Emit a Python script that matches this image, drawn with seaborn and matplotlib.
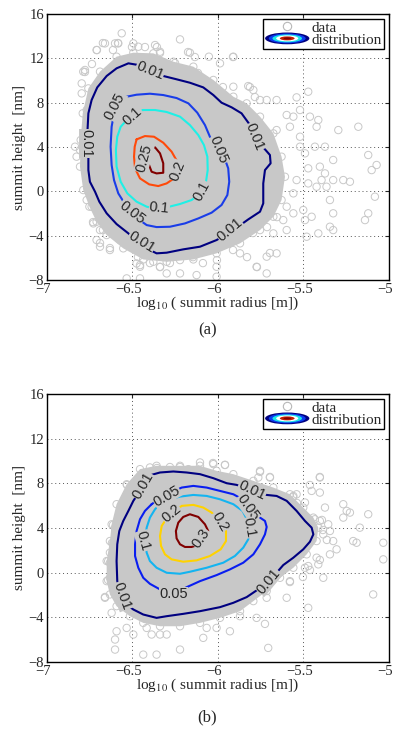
import matplotlib
matplotlib.use("Agg")
import matplotlib.pyplot as plt
from matplotlib.legend_handler import HandlerBase
from matplotlib.lines import Line2D
from matplotlib.patches import Ellipse, Patch
from matplotlib.transforms import ScaledTranslation
import pandas as pd
import seaborn as sns

# ---- data ----
XTICKS = [-7, -6.5, -6, -5.5, -5]
YTICKS = [-8, -4, 0, 4, 8, 12, 16]

# (a) outline of the dense part of the scatter cloud
A_CLOUD = [(-6.690, 10.80), (-6.593, 12.15), (-6.495, 12.51), (-6.378, 12.45), (-6.261, 11.70),
           (-6.144, 11.25), (-6.027, 10.05), (-5.910, 8.54), (-5.832, 7.94), (-5.754, 6.74),
           (-5.676, 5.23), (-5.628, 3.13), (-5.608, 1.32), (-5.628, -0.78), (-5.676, -2.29),
           (-5.754, -3.49), (-5.871, -4.69), (-6.008, -5.59), (-6.144, -6.14), (-6.300, -6.35),
           (-6.437, -6.14), (-6.554, -5.14), (-6.651, -3.94), (-6.710, -2.74), (-6.752, -1.38),
           (-6.788, 0.12), (-6.807, 2.23), (-6.803, 4.63), (-6.791, 7.04), (-6.758, 9.29)]

A_OUTLIERS = [(-6.563, 14.26), (-6.602, 13.35), (-6.583, 13.35), (-6.661, 13.35), (-6.710, 12.75),
              (-6.495, 13.35), (-6.466, 13.05), (-6.368, 13.20), (-6.339, 12.60), (-6.222, 13.71),
              (-6.164, 12.51), (-6.053, 12.15), (-5.910, 12.15), (-5.988, 11.55), (-5.910, 9.44),
              (-5.823, 9.50), (-5.793, 9.14), (-5.754, 8.24), (-5.715, 8.24), (-5.657, 8.24),
              (-5.540, 8.48), (-5.472, 8.99), (-5.598, 6.89), (-5.559, 6.74), (-5.520, 7.34),
              (-5.657, 5.53), (-5.579, 5.83), (-5.520, 4.93), (-5.462, 6.74), (-5.413, 6.44),
              (-5.423, 5.83), (-5.520, 4.03), (-5.491, 3.43), (-5.374, 4.03), (-5.433, 4.03),
              (-5.404, 2.23), (-5.374, 1.62), (-5.472, 2.08), (-5.394, 1.02), (-5.326, 1.02),
              (-5.267, 1.02), (-5.326, 2.83), (-5.296, 5.53), (-5.179, 5.83), (-5.121, 3.28),
              (-5.072, 2.38), (-5.101, 1.92), (-5.228, 0.87), (-5.082, -0.48), (-5.140, -2.59),
              (-5.121, -1.98), (-5.326, -1.98), (-5.345, -0.78), (-5.365, 0.42), (-5.423, 0.42),
              (-5.472, 0.72), (-5.540, 1.02), (-5.559, -0.18), (-5.598, -1.38), (-5.559, -1.98),
              (-5.501, -1.68), (-5.491, -2.59), (-5.452, -2.29), (-5.326, -3.49), (-5.345, -3.19),
              (-5.413, -3.79), (-5.481, -4.09), (-5.618, -2.59), (-5.598, -3.49), (-5.676, -3.79),
              (-5.657, -5.59), (-5.715, -5.89), (-5.715, -7.40), (-5.774, -6.80), (-5.871, -5.59),
              (-5.930, -4.69), (-6.008, -6.80), (-6.008, -7.70), (-6.125, -7.55), (-6.222, -7.40),
              (-6.300, -7.40), (-6.339, -6.80), (-6.378, -6.35), (-6.456, -7.85), (-6.534, -7.85),
              (-6.476, -6.50), (-6.456, -6.80), (-6.632, -5.29), (-6.690, -4.99), (-6.710, -4.39),
              (-6.690, -3.49), (-6.729, -2.89), (-6.739, -1.38), (-6.768, -0.78), (-6.758, 0.42),
              (-6.827, 3.13), (-6.807, 3.73), (-6.836, 4.03), (-6.797, 9.74), (-6.788, 10.80),
              (-6.797, 8.84), (-6.768, 7.34), (-6.778, 10.95),
              (-6.778, 10.77), (-6.737, 11.49), (-6.708, 12.75), (-6.673, 13.38), (-6.614, 12.75),
              (-6.585, 13.38), (-6.503, 13.02), (-6.427, 13.02), (-6.357, 13.02), (-6.339, 12.48),
              (-6.251, 11.58), (-6.175, 12.57), (-6.135, 12.12), (-6.117, 10.68), (-6.064, 9.59),
              (-5.971, 9.41), (-5.912, 12.12), (-5.813, 9.41), (-5.784, 8.51), (-5.860, 7.61),
              (-6.731, -2.77), (-6.673, -3.49), (-6.690, -4.66), (-6.632, -5.11), (-6.573, -4.39),
              (-6.468, -5.93), (-6.456, -6.65), (-6.398, -6.47), (-6.339, -6.83), (-6.281, -6.47),
              (-6.222, -6.20), (-6.146, -5.93), (-6.088, -6.47), (-6.006, -6.20), (-5.912, -5.29),
              (-5.830, -5.93), (-5.772, -6.83), (-5.871, -3.49), (-5.795, -3.76), (-5.713, -3.22),
              (-5.696, -5.56), (-5.655, -2.32)]

# (a) contour paths, one per level
A_LEVELS = [0.01, 0.05, 0.1, 0.2, 0.25]
A_C001 = [(-6.758, 3.13), (-6.764, 5.23), (-6.758, 7.04), (-6.739, 8.24), (-6.706, 9.38),
          (-6.651, 10.41), (-6.593, 11.10), (-6.524, 11.55), (-6.466, 11.40), (-6.398, 10.95),
          (-6.320, 10.41), (-6.242, 10.11), (-6.164, 9.80), (-6.086, 9.38), (-6.027, 8.69),
          (-5.979, 8.00), (-5.920, 7.58), (-5.862, 7.04), (-5.817, 6.08), (-5.774, 4.93),
          (-5.735, 3.97), (-5.696, 3.28), (-5.692, 2.53), (-5.725, 1.92), (-5.735, 0.72),
          (-5.735, -1.08), (-5.754, -1.83), (-5.823, -2.53), (-5.910, -3.49), (-6.008, -4.39),
          (-6.105, -4.99), (-6.203, -5.23), (-6.300, -5.53), (-6.359, -5.59), (-6.437, -4.99),
          (-6.524, -3.79), (-6.593, -2.95), (-6.651, -1.98), (-6.694, -0.93), (-6.719, -0.03),
          (-6.749, 0.87), (-6.758, 1.92), (-6.758, 3.13)]
A_C005 = [(-6.554, 8.48), (-6.476, 8.72), (-6.398, 8.81), (-6.320, 8.69), (-6.242, 8.42),
          (-6.173, 7.94), (-6.121, 7.10), (-6.076, 5.98), (-6.043, 4.78), (-5.998, 3.73),
          (-5.959, 2.89), (-5.940, 2.08), (-5.934, 0.87), (-5.945, -0.33), (-5.979, -1.23),
          (-6.037, -1.92), (-6.115, -2.44), (-6.193, -2.89), (-6.281, -3.19), (-6.359, -3.22),
          (-6.417, -3.04), (-6.485, -2.29), (-6.544, -1.14), (-6.583, -0.18), (-6.608, 1.02),
          (-6.622, 2.38), (-6.628, 4.03), (-6.622, 5.83), (-6.608, 7.04), (-6.583, 7.94),
          (-6.554, 8.48)]
A_C010 = [(-6.437, 7.34), (-6.368, 7.34), (-6.300, 7.16), (-6.222, 6.74), (-6.164, 5.98),
          (-6.115, 5.08), (-6.082, 4.18), (-6.062, 3.13), (-6.060, 1.92), (-6.070, 0.87),
          (-6.105, -0.18), (-6.154, -0.78), (-6.222, -1.14), (-6.300, -1.44), (-6.359, -1.59),
          (-6.417, -1.38), (-6.476, -0.93), (-6.530, -0.18), (-6.569, 0.87), (-6.593, 2.23),
          (-6.597, 3.73), (-6.589, 4.93), (-6.569, 5.83), (-6.524, 6.59), (-6.485, 7.04),
          (-6.437, 7.34)]
A_C020 = [(-6.476, 4.69), (-6.427, 4.99), (-6.374, 4.93), (-6.320, 4.39), (-6.271, 3.58),
          (-6.238, 2.68), (-6.257, 1.17), (-6.300, 0.72), (-6.349, 0.48), (-6.402, 0.63),
          (-6.456, 1.17), (-6.485, 2.08), (-6.491, 3.13), (-6.487, 4.03), (-6.476, 4.69)]
A_C025 = [(-6.398, 3.88), (-6.368, 3.97), (-6.339, 3.43), (-6.320, 2.53), (-6.320, 1.68),
          (-6.359, 1.62), (-6.388, 1.77), (-6.407, 2.53), (-6.417, 3.28), (-6.398, 3.88)]
A_PATHS = [A_C001, A_C005, A_C010, A_C020, A_C025]
A_COLORS = ["#000080", "#1a3de8", "#1ef0e6", "#ff4a0a", "#800000"]
# clabel positions: (level, x, y, rotation)
A_LABELS = [(0.01, -6.398, 10.89, -22), (0.01, -5.784, 4.93, -68), (0.01, -5.930, -3.49, 40),
            (0.01, -6.446, -4.54, -32), (0.01, -6.772, 4.33, -90),
            (0.05, -6.602, 7.70, 62), (0.05, -5.998, 3.73, -68), (0.05, -6.505, -1.92, -38),
            (0.1, -6.499, 6.80, 42), (0.1, -6.096, 0.06, 62), (0.1, -6.343, -1.53, -5),
            (0.2, -6.238, 1.86, 68), (0.25, -6.433, 2.98, 75)]

# (b)
B_CLOUD = [(-6.534, 7.92), (-6.456, 9.27), (-6.359, 9.57), (-6.222, 9.57), (-6.105, 9.57),
           (-6.008, 9.12), (-5.910, 8.82), (-5.793, 8.22), (-5.676, 7.62), (-5.579, 7.02),
           (-5.501, 5.83), (-5.442, 4.93), (-5.413, 4.03), (-5.423, 2.83), (-5.481, 1.64),
           (-5.559, 0.44), (-5.637, -0.46), (-5.715, -1.65), (-5.793, -2.55), (-5.871, -3.45),
           (-5.988, -4.05), (-6.105, -4.50), (-6.222, -4.80), (-6.339, -4.80), (-6.437, -4.50),
           (-6.515, -3.90), (-6.593, -3.00), (-6.632, -1.95), (-6.651, -0.76), (-6.651, 1.04),
           (-6.632, 2.83), (-6.622, 4.33), (-6.593, 6.13)]

B_OUTLIERS = [(-6.027, 9.72), (-5.959, 9.66), (-6.105, 9.87), (-5.754, 9.12), (-5.764, 8.52),
              (-5.696, 8.52), (-5.559, 6.87), (-5.540, 7.02), (-5.491, 6.28), (-5.404, 8.52),
              (-5.404, 7.17), (-5.452, 7.32), (-5.374, 5.83), (-5.433, 4.78), (-5.404, 4.63),
              (-5.355, 4.33), (-5.345, 3.73), (-5.384, 3.43), (-5.326, 2.83), (-5.267, 6.13),
              (-5.247, 5.53), (-5.228, 5.38), (-5.267, 4.93), (-5.170, 4.03), (-5.209, 2.83),
              (-5.189, 2.68), (-5.121, 5.23), (-5.033, 1.19), (-5.033, 2.68), (-5.092, -1.95),
              (-5.306, 2.09), (-5.345, 1.64), (-5.384, -0.46), (-5.413, 0.74), (-5.423, 1.34),
              (-5.472, 0.59), (-5.491, 0.44), (-5.472, -3.15), (-5.579, -0.76), (-5.598, -2.25),
              (-5.715, -2.25), (-5.774, -4.05), (-5.725, -4.59), (-5.706, -6.74), (-5.871, -3.90),
              (-5.930, -5.25), (-6.008, -4.95), (-6.066, -4.95), (-6.086, -5.84), (-6.222, -6.89),
              (-6.300, -5.54), (-6.339, -5.54), (-6.437, -7.34), (-6.359, -7.34), (-6.388, -5.54),
              (-6.417, -4.95), (-6.495, -5.54), (-6.534, -4.95), (-6.602, -5.99), (-6.593, -5.25),
              (-6.602, -6.89), (-6.622, -3.60), (-6.661, -2.25), (-6.632, -0.46), (-6.642, 1.04),
              (-6.632, 1.79), (-6.612, 2.68), (-6.602, 4.03), (-6.485, 8.07), (-6.544, 6.43),
              (-6.398, 9.42), (-6.173, 9.27),
              (-6.532, 7.85), (-6.357, 9.37), (-6.281, 9.46), (-6.222, 9.46), (-6.029, 9.82),
              (-5.959, 9.64), (-5.754, 9.02), (-5.696, 8.57), (-5.404, 8.57), (-5.462, 7.85),
              (-5.561, 6.78), (-5.538, 6.24), (-5.392, 4.72), (-5.386, 3.82), (-5.363, 2.93),
              (-5.404, 1.14), (-5.462, 0.24), (-5.503, -0.39), (-5.579, -0.84), (-6.614, 4.27),
              (-6.620, 2.66), (-6.632, 0.87), (-6.643, -0.66), (-6.661, -2.18)]

B_LEVELS = [0.01, 0.05, 0.1, 0.2, 0.3]
B_C001 = [(-6.456, 7.32), (-6.388, 8.76), (-6.339, 8.97), (-6.261, 9.06), (-6.183, 8.97),
          (-6.105, 8.82), (-6.027, 8.46), (-5.949, 8.01), (-5.891, 7.86), (-5.803, 7.38),
          (-5.715, 6.96), (-5.657, 6.87), (-5.598, 6.43), (-5.540, 5.53), (-5.491, 4.63),
          (-5.452, 4.03), (-5.442, 3.43), (-5.462, 2.77), (-5.501, 2.09), (-5.559, 1.34),
          (-5.618, 0.68), (-5.657, -0.01), (-5.706, -0.76), (-5.774, -1.59), (-5.832, -2.19),
          (-5.910, -2.70), (-5.988, -3.09), (-6.105, -3.45), (-6.203, -3.69), (-6.300, -3.90),
          (-6.359, -4.05), (-6.437, -3.75), (-6.495, -3.30), (-6.534, -2.85), (-6.563, -2.10),
          (-6.589, -0.76), (-6.593, 1.04), (-6.589, 2.54), (-6.577, 3.73), (-6.554, 4.63),
          (-6.524, 5.53), (-6.495, 6.43), (-6.456, 7.32)]
B_C005 = [(-6.388, 6.13), (-6.320, 6.87), (-6.212, 7.62), (-6.144, 7.77), (-6.066, 7.62),
          (-5.988, 7.32), (-5.910, 7.02), (-5.867, 6.66), (-5.813, 5.83), (-5.754, 4.93),
          (-5.725, 4.63), (-5.715, 4.09), (-5.725, 3.43), (-5.754, 2.54), (-5.793, 1.64),
          (-5.852, 0.89), (-5.930, 0.29), (-6.008, -0.22), (-6.105, -0.76), (-6.183, -1.30),
          (-6.261, -1.95), (-6.339, -1.50), (-6.398, -1.00), (-6.437, -0.46), (-6.466, 0.44),
          (-6.485, 1.49), (-6.485, 2.54), (-6.476, 3.73), (-6.456, 4.78), (-6.427, 5.53),
          (-6.388, 6.13)]
B_C010 = [(-6.329, 6.28), (-6.281, 6.57), (-6.222, 6.81), (-6.144, 6.96), (-6.066, 6.87),
          (-5.988, 6.57), (-5.910, 6.13), (-5.856, 5.53), (-5.828, 4.69), (-5.817, 3.88),
          (-5.823, 2.98), (-5.852, 2.24), (-5.901, 1.49), (-5.969, 0.89), (-6.066, 0.44),
          (-6.164, 0.08), (-6.222, -0.10), (-6.300, -0.01), (-6.359, 0.44), (-6.398, 1.04),
          (-6.417, 1.79), (-6.427, 2.83), (-6.417, 4.03), (-6.398, 4.93), (-6.368, 5.68),
          (-6.329, 6.28)]
B_C020 = [(-6.310, 4.63), (-6.271, 5.29), (-6.212, 5.98), (-6.144, 6.07), (-6.086, 5.83),
          (-6.037, 5.38), (-5.988, 4.63), (-5.953, 3.73), (-5.953, 2.83), (-5.984, 2.09),
          (-6.047, 1.49), (-6.125, 1.10), (-6.203, 0.98), (-6.271, 1.19), (-6.310, 1.64),
          (-6.333, 2.39), (-6.339, 3.28), (-6.329, 4.18), (-6.310, 4.63)]
B_C030 = [(-6.246, 3.73), (-6.232, 4.48), (-6.203, 4.99), (-6.164, 5.23), (-6.115, 4.99),
          (-6.076, 4.33), (-6.057, 3.73), (-6.066, 3.13), (-6.105, 2.54), (-6.154, 2.30),
          (-6.193, 2.30), (-6.222, 2.54), (-6.242, 3.07), (-6.246, 3.73)]
B_PATHS = [B_C001, B_C005, B_C010, B_C020, B_C030]
B_COLORS = ["#000080", "#0a1ef0", "#14b4f0", "#ffd200", "#800000"]
B_LABELS = [(0.01, -6.437, 7.77, 60), (0.01, -5.803, 7.32, -25), (0.01, -5.706, -0.76, 50),
            (0.01, -6.563, -2.10, -70),
            (0.05, -6.300, 6.87, 30), (0.05, -5.823, 5.83, -55), (0.05, -6.261, -1.95, 0),
            (0.1, -5.817, 4.03, -80), (0.1, -6.437, 2.83, -75),
            (0.2, -6.271, 5.29, 40), (0.2, -5.988, 4.57, -60), (0.3, -6.099, 3.07, 55)]

GRAY = "#c8c8c8"


class RingHandler(HandlerBase):
    # concentric filled ellipses like the matlab contour legend icon
    def __init__(self, colors):
        super().__init__()
        self.colors = colors

    def create_artists(self, legend, orig_handle, xdescent, ydescent, width, height, fontsize, trans):
        cx = width / 2 - xdescent
        cy = height / 2 - ydescent
        arts = []
        n = len(self.colors)
        for i, c in enumerate(self.colors):
            f = 1.0 - i / n
            e = Ellipse((cx, cy), width * f, height * 1.1 * f, facecolor=c, edgecolor="none",
                        transform=trans)
            arts.append(e)
        return arts


def draw_panel(fig, ax, cloud, outliers, levels, paths, colors, labels):
    cx = [p[0] for p in cloud]
    cy = [p[1] for p in cloud]
    ax.fill(cx, cy, color=GRAY, lw=0, zorder=1)
    pts = pd.DataFrame(outliers + cloud, columns=["x", "y"])
    sns.scatterplot(data=pts, x="x", y="y", ax=ax, marker="o", s=28, facecolor="none",
                    edgecolor=GRAY, linewidth=0.7, zorder=2)
    for lev, path, col in zip(levels, paths, colors):
        ax.plot([p[0] for p in path], [p[1] for p in path], color=col, lw=1.5, zorder=3)
    for lev, x, y, rot in labels:
        ax.text(x, y, f"{lev:g}", rotation=rot, ha="center", va="center", fontsize=10.5,
                family=["Liberation Sans", "DejaVu Sans"], zorder=4,
                bbox=dict(facecolor=GRAY, edgecolor="none", pad=0.2))

    ax.set_xlim(-7, -5)
    ax.set_ylim(-8, 16)
    ax.set_xticks(XTICKS)
    ax.set_yticks(YTICKS)
    ax.set_xticklabels([f"{t:g}".replace("-", "\u2212") for t in XTICKS])
    ax.set_yticklabels([f"{t:g}".replace("-", "\u2212") for t in YTICKS])
    ax.grid(True, linestyle=(0, (1, 3)), color="#555555", lw=0.7)
    ax.tick_params(direction="in", top=True, right=True, labelsize=10.5, length=3, pad=2)
    shift = ScaledTranslation(-0.04, 0, fig.dpi_scale_trans)
    for lab in ax.get_xticklabels():
        lab.set_transform(lab.get_transform() + shift)
    for sp in ax.spines.values():
        sp.set_linewidth(1.0)
        sp.set_color("black")
    ax.set_xlabel("log$_{10}$ ( summit radius [m])", fontsize=11, labelpad=-1)
    ax.set_ylabel("summit height  [nm]", fontsize=11, labelpad=2)

    handles = [Line2D([], [], marker="o", ls="none", mfc="none", mec="#b8b8b8", ms=6, mew=0.8),
               Patch()]
    leg = ax.legend(handles, ["data", "distribution"], loc="upper right", fontsize=11,
                    handler_map={Patch: RingHandler(["#000080", "#0a3cf0", "#1ee6e6", "#ffffff", "#c02000", "#800000"])},
                    frameon=True, fancybox=False, framealpha=1, edgecolor="black",
                    borderpad=0.15, labelspacing=-0.1, handletextpad=0.15, handlelength=2.9,
                    borderaxespad=0.3)
    leg.get_frame().set_linewidth(1.0)
    leg.set_zorder(10)


sns.set_style("white")
plt.rcParams["font.family"] = ["Liberation Serif", "DejaVu Serif"]
plt.rcParams["mathtext.fontset"] = "stix"

fig = plt.figure(figsize=(3.93, 7.37), dpi=100)
ax_a = fig.add_axes([0.1196, 0.620, 0.870, 0.361])
ax_b = fig.add_axes([0.1196, 0.1018, 0.870, 0.3636])

draw_panel(fig, ax_a, A_CLOUD, A_OUTLIERS, A_LEVELS, A_PATHS, A_COLORS, A_LABELS)
draw_panel(fig, ax_b, B_CLOUD, B_OUTLIERS, B_LEVELS, B_PATHS, B_COLORS, B_LABELS)

fig.text(0.527, 0.552, "(a)", ha="center", va="center", fontsize=12)
fig.text(0.527, 0.026, "(b)", ha="center", va="center", fontsize=12)

fig.savefig("out.png", dpi=100)
